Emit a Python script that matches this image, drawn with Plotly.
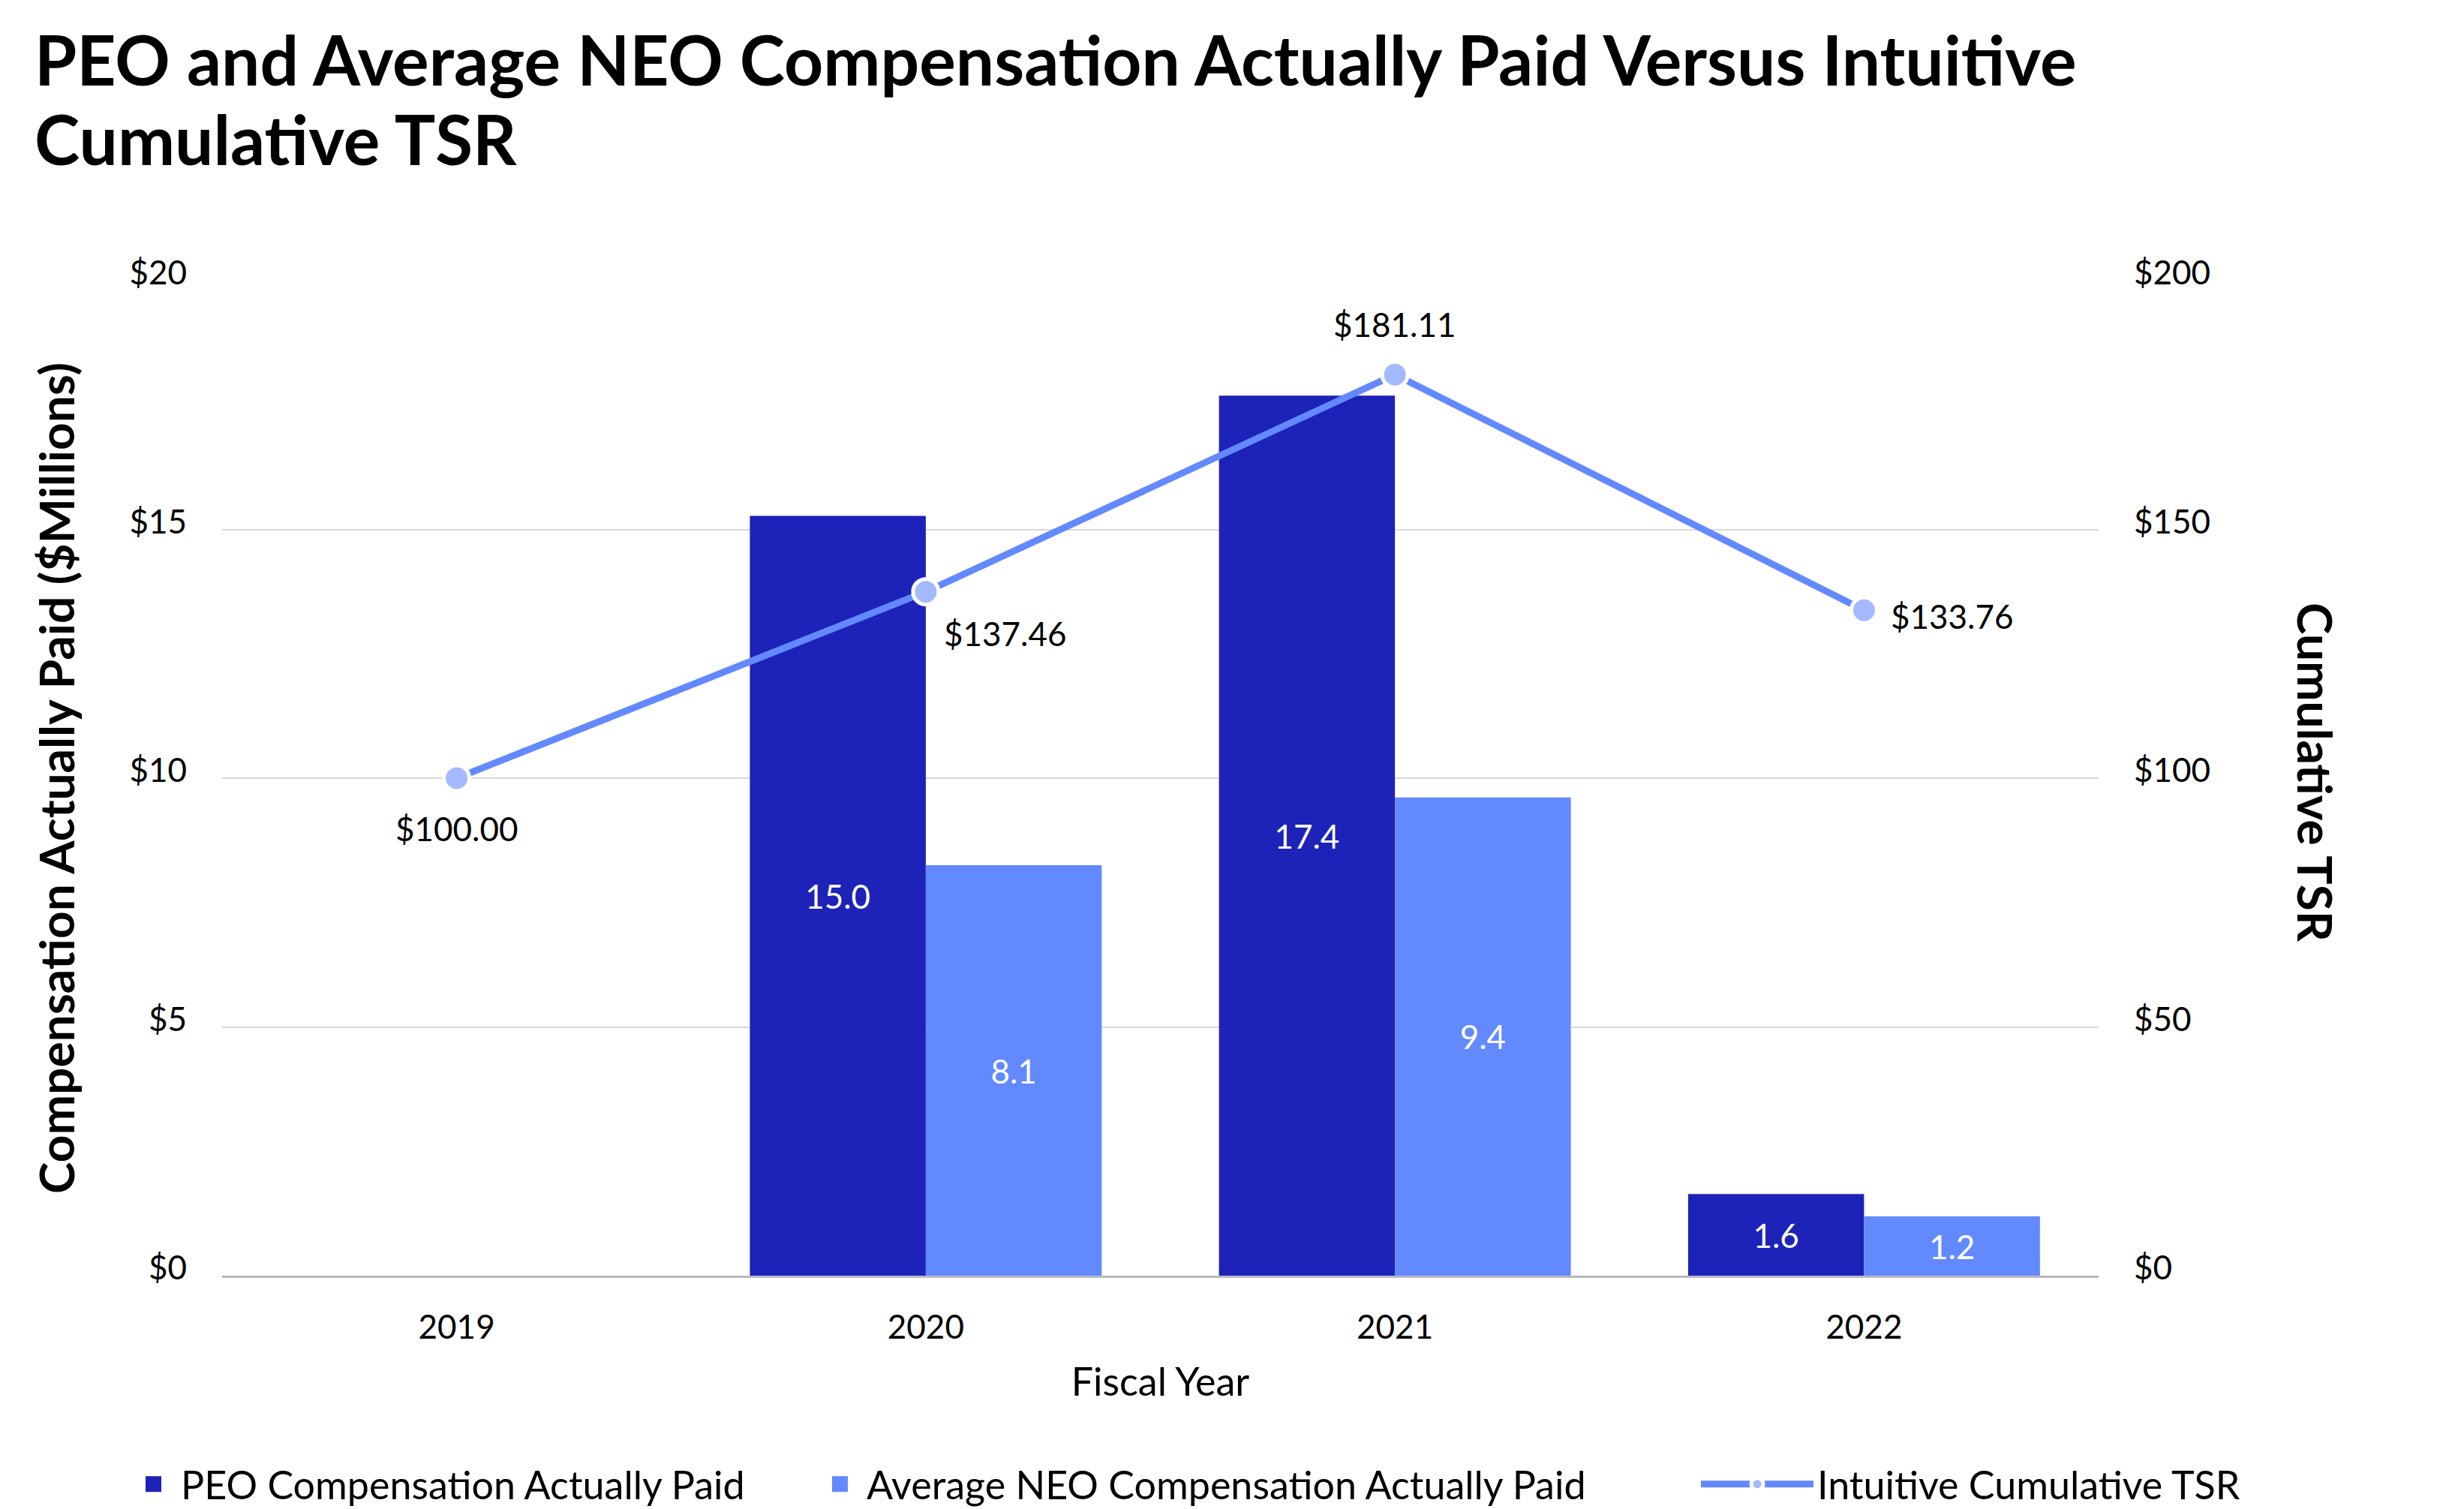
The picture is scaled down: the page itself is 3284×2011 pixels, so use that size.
import plotly.graph_objects as go

# ---- data ----
years = ["2019", "2020", "2021", "2022"]
peo_comp = [None, 15.27, 17.69, 1.64]          # bar heights ($M)
peo_labels = ["", "15.0", "17.4", "1.6"]        # printed data labels
neo_comp = [None, 8.25, 9.61, 1.19]
neo_labels = ["", "8.1", "9.4", "1.2"]
tsr = [100.00, 137.46, 181.11, 133.76]
tsr_labels = ["$100.00", "$137.46", "$181.11", "$133.76"]

left_ticks = [0, 5, 10, 15, 20]
left_tick_text = ["$0", "$5", "$10", "$15", "$20"]
right_ticks = [0, 50, 100, 150, 200]
right_tick_text = ["$0", "$50", "$100", "$150", "$200"]

title_lines = ["PEO and Average NEO Compensation Actually Paid Versus Intuitive",
               "Cumulative TSR"]
names = ["PEO Compensation Actually Paid",
         "Average NEO Compensation Actually Paid",
         "Intuitive Cumulative TSR"]

# ---- styles ----
W, H = 3284, 2011
FONT = "Lato"
C_PEO = "#1D22B8"
C_NEO = "#6389FF"
C_LINE = "#6389FF"
C_MARK = "#A5BAFD"
FS = 44
FS_TXT = 52
ML, MR, MT, MB = 288, 495, 366, 319

# label placement around each TSR point (pixel offsets, anchors)
lab_xanchor = ["center", "left", "center", "left"]
lab_xshift = [0, 22, 0, 34]
lab_yshift = [-67, -55, 67, -8]
title_line_y = [70, 176]   # pixel centres of the title lines from the top

fig = go.Figure()
fig.add_trace(go.Bar(
    x=years, y=peo_comp, name=names[0], marker_color=C_PEO,
    marker_line_width=0, showlegend=False,
    text=peo_labels, textposition="inside", insidetextanchor="middle",
    textfont=dict(color="white", size=FS, family=FONT), yaxis="y",
))
fig.add_trace(go.Bar(
    x=years, y=neo_comp, name=names[1], marker_color=C_NEO,
    marker_line_width=0, showlegend=False,
    text=neo_labels, textposition="inside", insidetextanchor="middle",
    textfont=dict(color="white", size=FS, family=FONT), yaxis="y",
))
fig.add_trace(go.Scatter(
    x=years, y=tsr, name=names[2], mode="lines+markers",
    line=dict(color=C_LINE, width=9),
    marker=dict(color=C_MARK, size=34, line=dict(color="white", width=5)),
    cliponaxis=False, yaxis="y2", legend="legend3",
))
# legend swatches for the bar series
fig.add_trace(go.Scatter(
    x=[None], y=[None], mode="markers", name=names[0], yaxis="y",
    marker=dict(symbol="square", size=16, color=C_PEO,
                line=dict(color=C_PEO, width=5)),
    legend="legend",
))
fig.add_trace(go.Scatter(
    x=[None], y=[None], mode="markers", name=names[1], yaxis="y",
    marker=dict(symbol="square", size=16, color=C_NEO,
                line=dict(color=C_NEO, width=5)),
    legend="legend2",
))

annotations = []
for line, ty in zip(title_lines, title_line_y):
    annotations.append(dict(
        text="<b>" + line + "</b>", xref="paper", yref="paper",
        x=0, y=1, xshift=36 - ML, yshift=MT - ty,
        xanchor="left", yanchor="middle", align="left", showarrow=False,
        font=dict(size=91, family=FONT, color="black")))
annotations += [
    dict(text="<b>Compensation Actually Paid ($Millions)</b>", textangle=-90,
         xref="paper", yref="paper", x=0, y=0.5,
         xshift=-222, xanchor="center", yanchor="middle", showarrow=False,
         font=dict(size=64, family=FONT, color="black")),
    dict(text="<b>Cumulative TSR</b>", textangle=90,
         xref="paper", yref="paper", x=1, y=0.5,
         xshift=290, yshift=8, xanchor="center", yanchor="middle",
         showarrow=False, font=dict(size=64, family=FONT, color="black")),
]
for i in range(len(years)):
    annotations.append(dict(
        text=tsr_labels[i], xref="x", yref="y2", x=i, y=tsr[i],
        xanchor=lab_xanchor[i], yanchor="middle",
        xshift=lab_xshift[i], yshift=lab_yshift[i], showarrow=False,
        font=dict(size=FS, family=FONT, color="black"),
    ))

legend_common = dict(
    orientation="h", xref="container", yref="container",
    yanchor="middle", y=1 - 1970 / H,
    font=dict(size=FS_TXT, family=FONT, color="black"),
    bgcolor="rgba(0,0,0,0)", itemsizing="trace",
)

fig.update_layout(
    width=W, height=H,
    plot_bgcolor="white", paper_bgcolor="white",
    margin=dict(l=ML, r=MR, t=MT, b=MB),
    font=dict(family=FONT, size=FS, color="black"),
    barmode="group", bargap=0.25, bargroupgap=0,
    xaxis=dict(
        type="category", range=[-0.5, 3.5],
        showline=True, linecolor="#B8B8C2", linewidth=3,
        ticks="", ticklabelstandoff=28,
        tickfont=dict(size=FS, family=FONT, color="black"),
        title=dict(text="Fiscal Year", standoff=32,
                   font=dict(size=FS_TXT, family=FONT, color="black")),
        showgrid=False, zeroline=False,
    ),
    yaxis=dict(
        range=[0, 20], tickvals=left_ticks, ticktext=left_tick_text,
        showgrid=True, gridcolor="#D9D9D9", gridwidth=2,
        zeroline=False, showline=False, ticks="",
        ticklabelstandoff=46, ticklabelshift=-10,
        tickfont=dict(size=FS, family=FONT, color="black"),
    ),
    yaxis2=dict(
        range=[0, 200], tickvals=right_ticks, ticktext=right_tick_text,
        overlaying="y", side="right", showgrid=False, zeroline=False,
        showline=False, ticks="", ticklabelstandoff=46, ticklabelshift=-10,
        tickfont=dict(size=FS, family=FONT, color="black"),
    ),
    legend=dict(legend_common, x=160 / W, itemwidth=63),
    legend2=dict(legend_common, x=1076 / W, itemwidth=61),
    legend3=dict(legend_common, x=2254 / W, itemwidth=150),
    annotations=annotations,
    showlegend=True,
)

fig.write_html("out.html")
